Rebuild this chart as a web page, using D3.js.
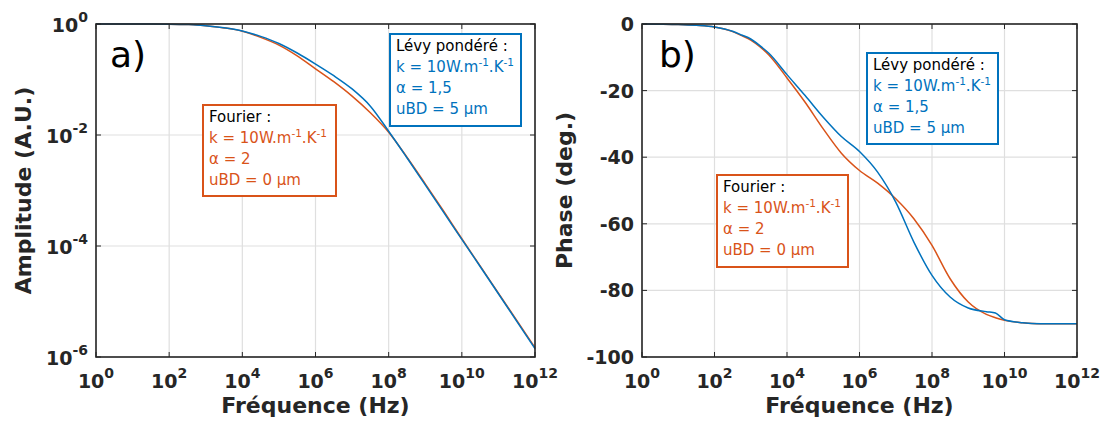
<!DOCTYPE html>
<html><head><meta charset="utf-8">
<script src="https://cdn.jsdelivr.net/npm/d3@7"></script>
<style>
html,body{margin:0;padding:0;background:#fff;}
svg{display:block;font-family:"DejaVu Sans",sans-serif;}
</style></head>
<body>
<svg id="chart" width="1107" height="427"></svg>
<script>
// ---------------- DATA ----------------
const freqHz = [1, 3.162, 10, 31.62, 100, 316.2, 562.3, 1000, 1778, 3162, 10000, 31620, 1e5, 3.162e5, 1e6, 3.162e6, 1e7, 3.162e7, 1e8, 3.162e8, 1e9, 3.162e9, 5.623e9, 1e10, 3.162e10, 1e11, 1e12];

const ampFourier = [1, 1, 1, 0.998, 0.993, 0.977, 0.962, 0.933, 0.895, 0.851, 0.741, 0.575, 0.417, 0.267, 0.156, 0.0912, 0.0501, 0.0251, 0.0112, 0.00398, 0.00132, 4.27e-4, 2.4e-4, 1.35e-4, 4.37e-5, 1.41e-5, 1.48e-6];
const ampLevy    = [1, 1, 1, 0.998, 0.993, 0.977, 0.962, 0.933, 0.896, 0.853, 0.75, 0.598, 0.446, 0.300, 0.190, 0.117, 0.0676, 0.0331, 0.0117, 0.00389, 0.00126, 4.07e-4, 2.3e-4, 1.32e-4, 4.27e-5, 1.38e-5, 1.41e-6];

const phaseFourier = [0, -0.05, -0.15, -0.4, -0.9, -2.3, -3.5, -4.8, -6.8, -9.3, -16.2, -23.5, -31.5, -38.8, -44, -47.8, -52.5, -58.5, -66.5, -76.5, -83.5, -87.2, -88.2, -89, -89.7, -90, -90];
const phaseLevy    = [0, -0.05, -0.15, -0.4, -0.9, -2.2, -3.3, -4.5, -6.5, -8.8, -15.2, -21.5, -28, -33.8, -38.3, -44.5, -53.5, -65.5, -75.5, -82, -85.3, -86.4, -86.8, -88.8, -89.7, -90, -90];

const xTickExps = [0, 2, 4, 6, 8, 10, 12];
const ampTickExps = [0, -2, -4, -6];
const phaseTicks = [0, -20, -40, -60, -80, -100];

const legendFourier = ["Fourier :", "k = 10W.m|-1|.K|-1", "α = 2", "uBD = 0 µm"];
const legendLevy = ["Lévy pondéré :", "k = 10W.m|-1|.K|-1", "α = 1,5", "uBD = 5 µm"];
const panelLabels = ["a)", "b)"];
const xTitle = "Fréquence (Hz)";
const yTitles = ["Amplitude (A.U.)", "Phase (deg.)"];

// ---------------- STYLE ----------------
const BLUE = "#0072BD", ORANGE = "#D95319", AXC = "#262626", GRID = "#dfdfdf";
const svg = d3.select("#chart");

function drawPanel(cfg) {
  const g = svg.append("g");
  const x = d3.scaleLog().domain([1, 1e12]).range([cfg.x0, cfg.x1]);
  const y = cfg.y;
  // grid
  xTickExps.forEach(e => {
    g.append("line").attr("x1", x(Math.pow(10, e))).attr("x2", x(Math.pow(10, e)))
      .attr("y1", cfg.top).attr("y2", cfg.bottom).attr("stroke", GRID).attr("stroke-width", 1.2);
  });
  cfg.yTicks.forEach(v => {
    g.append("line").attr("x1", cfg.x0).attr("x2", cfg.x1).attr("y1", y(v)).attr("y2", y(v))
      .attr("stroke", GRID).attr("stroke-width", 1.2);
  });
  // curves
  const line = (ys) => d3.line().x((d, i) => x(freqHz[i])).y(d => y(d)).curve(d3.curveMonotoneX)(ys);
  g.append("path").attr("d", line(cfg.orange)).attr("fill", "none").attr("stroke", ORANGE).attr("stroke-width", 1.5);
  g.append("path").attr("d", line(cfg.blue)).attr("fill", "none").attr("stroke", BLUE).attr("stroke-width", 1.5);
  // ticks (inward)
  xTickExps.forEach(e => {
    const xx = x(Math.pow(10, e));
    g.append("line").attr("x1", xx).attr("x2", xx).attr("y1", cfg.bottom).attr("y2", cfg.bottom - 5).attr("stroke", AXC).attr("stroke-width", 1);
    g.append("line").attr("x1", xx).attr("x2", xx).attr("y1", cfg.top).attr("y2", cfg.top + 5).attr("stroke", AXC).attr("stroke-width", 1);
  });
  cfg.yTicks.forEach(v => {
    g.append("line").attr("x1", cfg.x0).attr("x2", cfg.x0 + 5).attr("y1", y(v)).attr("y2", y(v)).attr("stroke", AXC).attr("stroke-width", 1);
    g.append("line").attr("x1", cfg.x1).attr("x2", cfg.x1 - 5).attr("y1", y(v)).attr("y2", y(v)).attr("stroke", AXC).attr("stroke-width", 1);
  });
  // frame
  g.append("rect").attr("x", cfg.x0).attr("y", cfg.top).attr("width", cfg.x1 - cfg.x0).attr("height", cfg.bottom - cfg.top)
    .attr("fill", "none").attr("stroke", AXC).attr("stroke-width", 1.6);
  // x tick labels
  xTickExps.forEach(e => {
    const t = g.append("text").attr("x", x(Math.pow(10, e))).attr("y", cfg.bottom + 31)
      .attr("text-anchor", "middle").attr("font-weight", "bold").attr("font-size", 19).attr("fill", AXC);
    t.append("tspan").text("10");
    t.append("tspan").attr("dy", -10).attr("font-size", 14).text(String(e));
  });
  // y tick labels
  cfg.yTicks.forEach((v, i) => {
    const t = g.append("text").attr("x", cfg.x0 - 8).attr("text-anchor", "end")
      .attr("font-weight", "bold").attr("font-size", 19).attr("fill", AXC);
    if (cfg.log) {
      t.attr("y", y(v) + 8);
      t.append("tspan").text("10");
      t.append("tspan").attr("dy", -10).attr("font-size", 14).text(String(ampTickExps[i]));
    } else {
      t.attr("y", y(v) + 7).text(String(v));
    }
  });
  // titles
  g.append("text").attr("x", (cfg.x0 + cfg.x1) / 2).attr("y", 413).attr("text-anchor", "middle")
    .attr("font-weight", "bold").attr("font-size", 22).attr("fill", AXC).text(xTitle);
  g.append("text").attr("transform", `translate(${cfg.yTitleX},${(cfg.top + cfg.bottom) / 2}) rotate(-90)`)
    .attr("text-anchor", "middle").attr("font-weight", "bold").attr("font-size", 22).attr("fill", AXC).text(cfg.yTitle);
  // panel label
  g.append("text").attr("x", cfg.x0 + cfg.labelDx).attr("y", 67).attr("font-size", 36).attr("fill", "#000").text(cfg.label);
  // legends
  cfg.legends.forEach(L => {
    g.append("rect").attr("x", L.x).attr("y", L.y).attr("width", L.w).attr("height", L.h)
      .attr("fill", "#fff").attr("stroke", L.color).attr("stroke-width", 2);
    L.lines.forEach((s, i) => {
      const t = g.append("text").attr("x", L.x + 6).attr("y", L.y + 17 + i * 21)
        .attr("font-size", 15).attr("fill", i === 0 ? "#000" : L.color);
      const parts = s.split("|");
      parts.forEach((p, j) => {
        const ts = t.append("tspan").text(p);
        if (j % 2 === 1) ts.attr("font-size", 10.5).attr("dy", -6);
        else if (j > 0) ts.attr("dy", 6);
      });
    });
  });
}

drawPanel({
  x0: 96, x1: 535, top: 24, bottom: 357, log: true,
  y: d3.scaleLog().domain([1e-6, 1]).range([357, 24]),
  yTicks: ampTickExps.map(e => Math.pow(10, e)),
  orange: ampFourier, blue: ampLevy,
  yTitle: yTitles[0], yTitleX: 31, label: panelLabels[0], labelDx: 14,
  legends: [
    {x: 203, y: 105, w: 133, h: 91, color: ORANGE, lines: legendFourier},
    {x: 390, y: 34, w: 131, h: 92, color: BLUE, lines: legendLevy}
  ]
});
drawPanel({
  x0: 642, x1: 1077, top: 24, bottom: 357, log: false,
  y: d3.scaleLinear().domain([-100, 0]).range([357, 24]),
  yTicks: phaseTicks,
  orange: phaseFourier, blue: phaseLevy,
  yTitle: yTitles[1], yTitleX: 572, label: panelLabels[1], labelDx: 17,
  legends: [
    {x: 717, y: 175, w: 131, h: 92, color: ORANGE, lines: legendFourier},
    {x: 867, y: 53, w: 131, h: 91, color: BLUE, lines: legendLevy}
  ]
});
</script>
</body></html>
